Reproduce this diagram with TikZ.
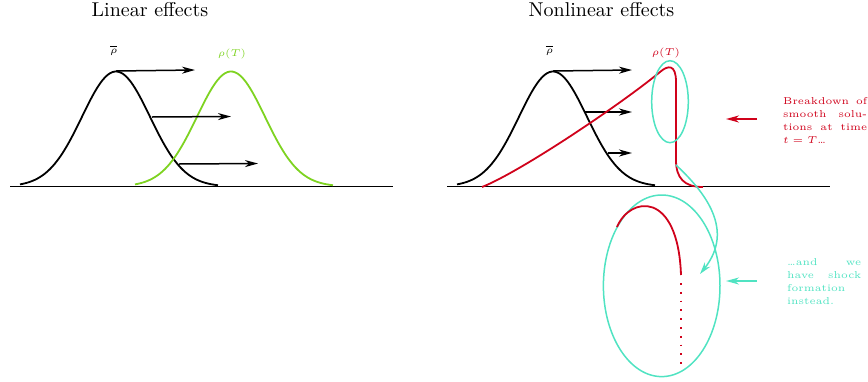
\documentclass[tikz,border=0pt]{standalone}
\usetikzlibrary{arrows.meta}
\definecolor{sgreen}{HTML}{7ED321}
\definecolor{sred}{HTML}{D0021B}
\definecolor{steal}{HTML}{50E3C2}
\newcommand{\twice}[1]{\scalebox{2}{#1}}
\begin{document}
\begin{tikzpicture}[x=1pt,y=-1pt,
  curve/.style={line width=1.8pt},
  axis/.style={line width=1.8pt,black},
  shift arrow/.style={line width=1.5pt,-{Stealth[length=13pt,width=7pt,inset=4pt]}},
  title/.style={anchor=base,inner sep=0pt},
  lab/.style={anchor=base,inner sep=0pt},
  note/.style={anchor=base west,inner sep=0pt}]
\useasboundingbox (0,0) rectangle (868,381);

% titles
\node[title] (t1) at (150,16.7) {\twice{Linear effects}};
\node[title] (t2) at (601.5,16.7) {\twice{Nonlinear effects}};

% ---------- left panel ----------
\draw[axis] (10,186.5) -- (393,186.5);
\draw[curve,black] plot[domain=-96:102,samples=80,smooth] ({116+\x},{186.5-115*exp(-(\x/34)^2/2)});
\draw[curve,sgreen] plot[domain=-96:102,samples=80,smooth] ({231+\x},{186.5-115*exp(-(\x/34)^2/2)});
\node[lab] (rb1) at (113.7,53.6) {\twice{\tiny$\overline{\rho}$}};
\node[lab,text=sgreen] (rt1) at (232,56.2) {\twice{\tiny$\rho(T)$}};
\coordinate (la1) at (116,71);  \coordinate (lb1) at (195,70);
\coordinate (la2) at (152,117); \coordinate (lb2) at (231,116.5);
\coordinate (la3) at (179,164); \coordinate (lb3) at (258,163.5);
\draw[shift arrow] (la1) -- (lb1);
\draw[shift arrow] (la2) -- (lb2);
\draw[shift arrow] (la3) -- (lb3);

% ---------- right panel ----------
\draw[axis] (447,186.5) -- (830,186.5);
\draw[curve,black] plot[domain=-96:102,samples=80,smooth] ({553+\x},{186.5-115*exp(-(\x/34)^2/2)});
\node[lab] (rb2) at (549.5,53.6) {\twice{\tiny$\overline{\rho}$}};
\node[lab,text=sred] (rt2) at (666,55.5) {\twice{\tiny$\rho(T)$}};
\coordinate (ra1) at (553,71);  \coordinate (rb1e) at (632,70);
\coordinate (ra2) at (585,112); \coordinate (rb2e) at (632,112);
\coordinate (ra3) at (608,153); \coordinate (rb3e) at (632,153);
\draw[shift arrow] (ra1) -- (rb1e);
\draw[shift arrow] (ra2) -- (rb2e);
\draw[shift arrow] (ra3) -- (rb3e);

% red (breaking) profile
\draw[curve,sred] (482,187) .. controls (520,172) and (620,105) .. (660,72)
  .. controls (668,65) and (676,64) .. (676,82)
  -- (676,160) .. controls (676,178) and (684,187) .. (703,187);

% small teal ellipse
\draw[steal,line width=1.5pt] (670,101.7) ellipse [x radius=18.3,y radius=41];

% teal curved arrow
\coordinate (ca) at (676,165);
\coordinate (cb) at (700,274);
\draw[steal,line width=1.5pt,-{Stealth[length=12pt,width=7pt,inset=4pt]}]
  (ca) .. controls (705,192) and (735,230) .. (cb);

% big teal ellipse with shock
\draw[steal,line width=1.5pt] (661.7,285.8) ellipse [x radius=58.3,y radius=90.8];
\draw[curve,sred] (617,227) .. controls (630,196) and (678,190) .. (681,275);
\draw[sred,line width=1.8pt,dash pattern=on 1.8pt off 7pt] (681,283) -- (681,365);

% side notes
\coordinate (na1) at (757,119); \coordinate (nb1) at (726,119);
\draw[sred,shift arrow] (na1) -- (nb1);
\node[note,text=sred] (n1) at (783,104) {\twice{\tiny\renewcommand{\arraystretch}{1.1}%
  \begin{tabular}[t]{@{}l@{}}
  \makebox[42pt][s]{Breakdown of}\\
  \makebox[42pt][s]{smooth solu-}\\
  \makebox[42pt][s]{tions at time}\\
  $t=T$\dots
  \end{tabular}}};

\coordinate (na2) at (757,281); \coordinate (nb2) at (726,281);
\draw[steal,shift arrow] (na2) -- (nb2);
\node[note,text=steal] (n2) at (787,265) {\twice{\tiny\renewcommand{\arraystretch}{1.1}%
  \begin{tabular}[t]{@{}l@{}}
  \makebox[37pt][s]{\dots{}and we}\\
  \makebox[37pt][s]{have shock}\\
  formation\\
  instead.
  \end{tabular}}};
\end{tikzpicture}
\end{document}
